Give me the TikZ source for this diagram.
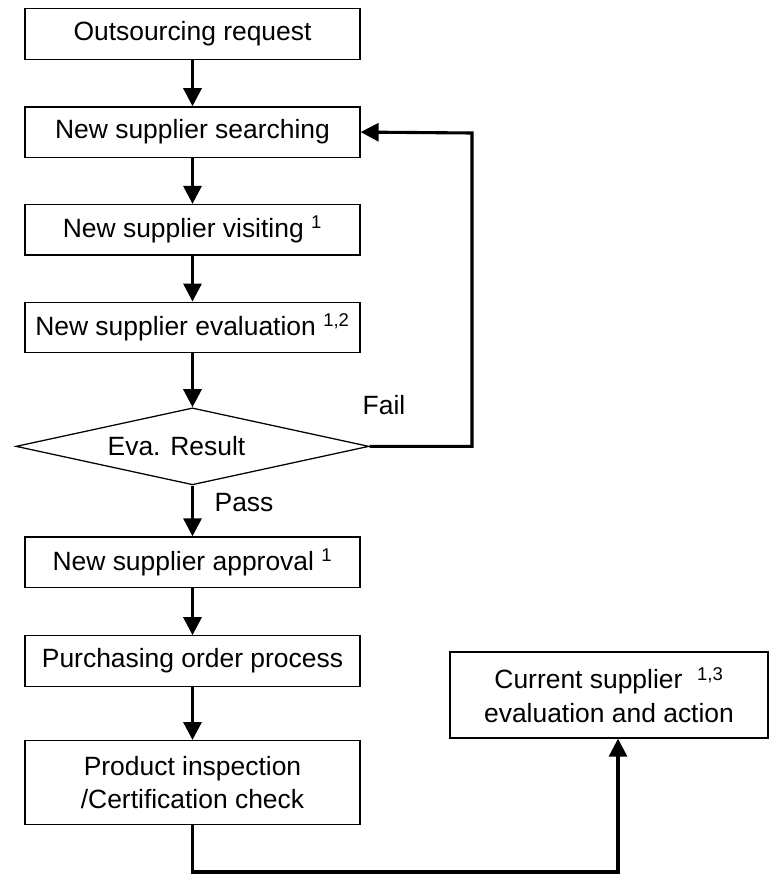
\documentclass[tikz,border=0pt]{standalone}
\usepackage{fontspec}
\setmainfont{Liberation Sans}
\usepackage{tikz}
\usetikzlibrary{shapes.geometric, arrows.meta, calc, positioning}

\begin{document}
\begin{tikzpicture}
% TikZ styles
\tikzset{
  stepbox/.style={rectangle, draw=black, line width=0.9pt, minimum width=8.375cm, minimum height=1.26cm, align=center, inner sep=0pt, font=\fontsize{18.8}{24}\selectfont},
  decision/.style={diamond, aspect=4.584, draw=black, line width=0.9pt, minimum width=8.825cm, minimum height=1.925cm, inner sep=0pt, font=\fontsize{18.8}{24}\selectfont},
  tag/.style={inner sep=0pt, font=\fontsize{18.8}{24}\selectfont},
  arrow/.style={-{Triangle[length=0.45cm, width=0.45cm]}, line width=2.2pt},
  line/.style={line width=2.2pt}
};
\useasboundingbox (0,0) rectangle (19.225,-21.875);

%==========================
% Hauptablauf
%==========================
\node[stepbox] (request) at (4.8125,-0.85) {Outsourcing request};
\node[stepbox, below=1.16cm of request] (search) {New supplier searching};
\node[stepbox, below=1.15cm of search] (visit) {New supplier visiting \textsuperscript{1}};
\node[stepbox, below=1.15cm of visit] (evaluation) {New supplier evaluation \textsuperscript{1,2}};
\node[decision, below=1.35cm of evaluation] (result) {\hspace*{-0.8cm}Eva. Result};
\node[stepbox, below=1.27cm of result] (approval) {New supplier approval \textsuperscript{1}};
\node[stepbox, below=1.18cm of approval] (order) {Purchasing order process};
\node[stepbox, minimum height=2.1cm, below=1.33cm of order] (inspection) {Product inspection\\/Certification check};

\node[stepbox, minimum width=7.95cm, minimum height=2.15cm] (current) at (15.225,-17.375) {Current supplier \ \textsuperscript{1,3}\\evaluation and action};

\node[tag] (fail) at (9.6,-10.125) {Fail};
\node[tag] (pass) at (6.1,-12.575) {Pass};

\coordinate (loop) at (11.8,-3.325);
\coordinate (turn) at (15.45,-21.8);

% === Pfeile ===
\draw[arrow] (request.south) -- (search.north);
\draw[arrow] (search.south) -- (visit.north);
\draw[arrow] (visit.south) -- (evaluation.north);
\draw[arrow] (evaluation.south) -- (result.north);
\draw[arrow] (result.south) -- (approval.north);
\draw[arrow] (approval.south) -- (order.north);
\draw[arrow] (order.south) -- (inspection.north);

% === Rueckfuehrung und Weiterleitung ===
\draw[arrow] (result.east) -| (loop) -- (search.east);
\draw[arrow] (inspection.south) |- (turn) -- (turn |- current.south);
\end{tikzpicture}
\end{document}
